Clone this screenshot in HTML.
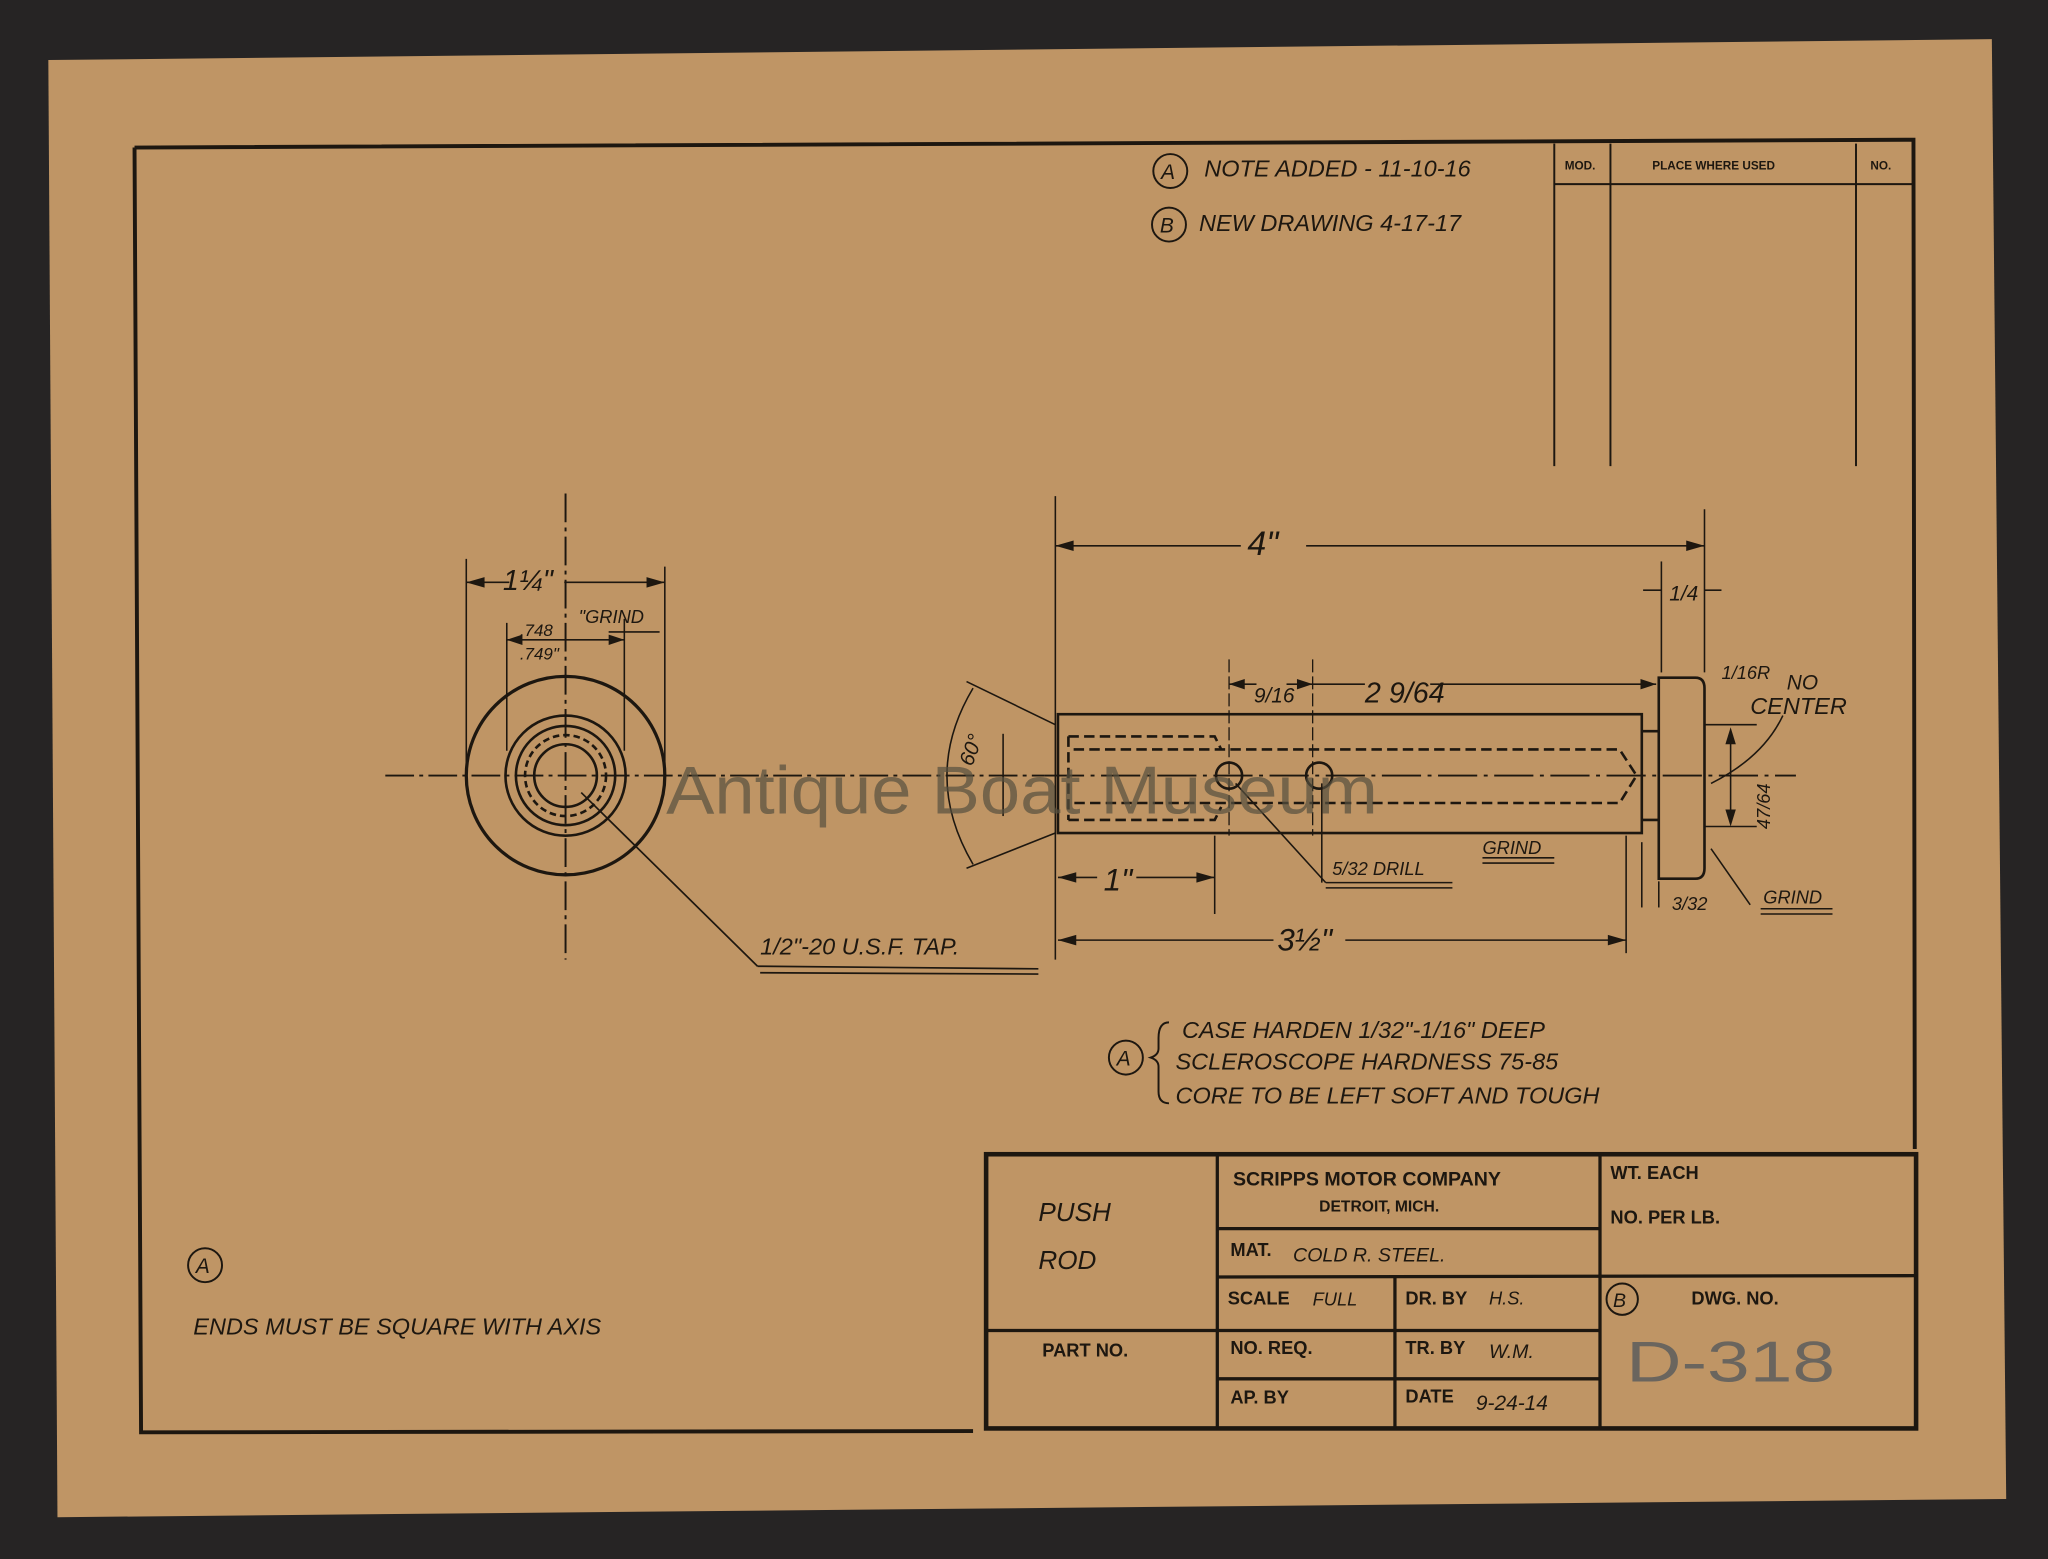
<!DOCTYPE html>
<html><head><meta charset="utf-8"><style>
html,body{margin:0;padding:0;background:#262424;}
svg{display:block}
text{font-family:"Liberation Sans",sans-serif;fill:#1d1710}
.h{font-family:"Liberation Sans",sans-serif;font-style:italic;fill:#1d1710}
.b{font-weight:bold}
</style></head><body>
<svg width="2048" height="1559" viewBox="0 0 1568 1194" preserveAspectRatio="none" xmlns="http://www.w3.org/2000/svg">
<rect width="1568" height="1194" fill="#262424"/>
<polygon points="37,46 1525,30 1536,1148 44,1162" fill="#bf9565"/>
<g stroke="#1d1710" fill="none">
<polyline points="103,113 1465,107 1466,880" stroke-width="3"/>
<polyline points="103,113 108,1097 745,1096" stroke-width="3"/>
<line x1="1190" y1="110" x2="1190" y2="357" stroke-width="1.5"/>
<line x1="1233" y1="110" x2="1233" y2="357" stroke-width="1.5"/>
<line x1="1421" y1="110" x2="1421" y2="357" stroke-width="1.5"/>
<line x1="1190" y1="141" x2="1465" y2="141" stroke-width="1.5"/>
<rect x="755" y="884" width="712" height="210" stroke-width="3.5"/>
<line x1="932" y1="884" x2="932" y2="1094" stroke-width="2.5"/>
<line x1="1225" y1="884" x2="1225" y2="1094" stroke-width="2.5"/>
<line x1="1068" y1="977" x2="1068" y2="1094" stroke-width="2.5"/>
<line x1="932" y1="941" x2="1225" y2="941" stroke-width="2.5"/>
<line x1="932" y1="978" x2="1467" y2="977" stroke-width="2.5"/>
<line x1="755" y1="1019" x2="1225" y2="1019" stroke-width="2.5"/>
<line x1="932" y1="1056" x2="1225" y2="1056" stroke-width="2.5"/>
<circle cx="433" cy="594" r="76" stroke-width="2.5"/>
<circle cx="433" cy="594" r="46" stroke-width="2"/>
<circle cx="433" cy="594" r="38" stroke-width="2"/>
<circle cx="433" cy="594" r="31" stroke-width="2" stroke-dasharray="5,3"/>
<circle cx="433" cy="594" r="24" stroke-width="2"/>
<line x1="433" y1="378" x2="433" y2="735" stroke-width="1.5" stroke-dasharray="22,4,3,4"/>
<line x1="295" y1="594" x2="800" y2="594" stroke-width="1.5" stroke-dasharray="22,4,3,4"/>
<line x1="357" y1="428" x2="357" y2="590" stroke-width="1.2"/>
<line x1="509" y1="434" x2="509" y2="590" stroke-width="1.2"/>
<line x1="357" y1="446" x2="390" y2="446" stroke-width="1.2"/>
<line x1="432" y1="446" x2="509" y2="446" stroke-width="1.2"/>
<line x1="388" y1="477" x2="388" y2="575" stroke-width="1.2"/>
<line x1="478" y1="474" x2="478" y2="575" stroke-width="1.2"/>
<line x1="388" y1="490" x2="478" y2="490" stroke-width="1.2"/>
<line x1="445" y1="607" x2="580" y2="740" stroke-width="1.3"/>
<line x1="580" y1="740" x2="795" y2="742" stroke-width="1.3"/>
<line x1="582" y1="745" x2="795" y2="746" stroke-width="1.3"/>
<line x1="808" y1="380" x2="808" y2="735" stroke-width="1.2"/>
<rect x="810" y="547" width="447" height="91" stroke-width="2"/>
<path d="M1257 560 H1270 M1257 628 H1270" stroke-width="2"/>
<path d="M1270 519 H1298 Q1305 519 1305 527 V665 Q1305 673 1298 673 H1270 Z" stroke-width="2"/>
<path d="M818 564 H930 L935 574 M818 628 H930 L935 618 M818 564 V628" stroke-width="2" stroke-dasharray="8,4"/>
<path d="M822 574 H1240 L1253 594 L1240 615 H822" stroke-width="2" stroke-dasharray="8,4"/>
<line x1="800" y1="594" x2="1375" y2="594" stroke-width="1.5" stroke-dasharray="30,5,3,5"/>
<circle cx="941" cy="594" r="10" stroke-width="2"/>
<circle cx="1010" cy="594" r="10" stroke-width="2"/>
<line x1="941" y1="505" x2="941" y2="640" stroke-width="1" stroke-dasharray="10,3"/>
<line x1="1005" y1="505" x2="1005" y2="640" stroke-width="1" stroke-dasharray="10,3"/>
<line x1="946" y1="600" x2="1015" y2="676" stroke-width="1.2"/>
<path d="M1015 676 H1112 M1015 680 H1112 M1012 600 V676" stroke-width="1.2"/>
<line x1="808" y1="418" x2="950" y2="418" stroke-width="1.2"/>
<line x1="1000" y1="418" x2="1305" y2="418" stroke-width="1.2"/>
<line x1="1305" y1="390" x2="1305" y2="515" stroke-width="1.2"/>
<line x1="1272" y1="430" x2="1272" y2="515" stroke-width="1.2"/>
<line x1="1258" y1="452" x2="1272" y2="452" stroke-width="1.2"/>
<line x1="1305" y1="452" x2="1318" y2="452" stroke-width="1.2"/>
<line x1="941" y1="524" x2="962" y2="524" stroke-width="1.2"/>
<line x1="985" y1="524" x2="1045" y2="524" stroke-width="1.2"/>
<line x1="1095" y1="524" x2="1268" y2="524" stroke-width="1.2"/>
<line x1="810" y1="672" x2="840" y2="672" stroke-width="1.2"/>
<line x1="870" y1="672" x2="930" y2="672" stroke-width="1.2"/>
<line x1="930" y1="640" x2="930" y2="700" stroke-width="1.2"/>
<line x1="810" y1="720" x2="975" y2="720" stroke-width="1.2"/>
<line x1="1030" y1="720" x2="1245" y2="720" stroke-width="1.2"/>
<line x1="1245" y1="640" x2="1245" y2="730" stroke-width="1.2"/>
<line x1="1257" y1="645" x2="1257" y2="695" stroke-width="1.2"/>
<line x1="1270" y1="675" x2="1270" y2="695" stroke-width="1.2"/>
<path d="M1305 555 H1345 M1305 633 H1345 M1325 560 V630" stroke-width="1.2"/>
<path d="M1365 548 Q1350 580 1310 600" stroke-width="1.2"/>
<path d="M1310 650 L1340 693" stroke-width="1.2"/>
<path d="M1348 696 H1403 M1348 700 H1403" stroke-width="1.2"/>
<path d="M1135 657 H1190 M1135 661 H1190" stroke-width="1.2"/>
<path d="M466 484 H505" stroke-width="1.2"/>
<path d="M808 555 L740 522 M808 638 L740 665" stroke-width="1.2"/>
<path d="M745 527 Q705 594 745 662" stroke-width="1.2"/>
<line x1="768" y1="562" x2="768" y2="625" stroke-width="1.2"/>
<path d="M895 783 Q887 783 887 795 V803 Q887 808 881 810 Q887 812 887 817 V836 Q887 845 895 845" stroke-width="1.5"/>
<circle cx="862" cy="810" r="13" stroke-width="1.5"/>
<circle cx="896" cy="131" r="13" stroke-width="1.5"/>
<circle cx="895" cy="172" r="13" stroke-width="1.5"/>
<circle cx="157" cy="969" r="13" stroke-width="1.5"/>
<circle cx="1242" cy="995" r="12" stroke-width="1.5"/>
</g>
<g fill="#1d1710">
<polygon points="808,418 822,414 822,422"/><polygon points="1305,418 1291,414 1291,422"/>
<polygon points="810,672 824,668 824,676"/><polygon points="930,672 916,668 916,676"/>
<polygon points="810,720 824,716 824,724"/><polygon points="1245,720 1231,716 1231,724"/>
<polygon points="941,524 953,520 953,528"/><polygon points="1005,524 993,520 993,528"/>
<polygon points="1268,524 1256,520 1256,528"/>
<polygon points="357,446 371,442 371,450"/><polygon points="509,446 495,442 495,450"/>
<polygon points="388,490 400,486 400,494"/><polygon points="478,490 466,486 466,494"/>
<polygon points="1325,557 1321,570 1329,570"/><polygon points="1325,633 1321,620 1329,620"/>
</g>
<g class="h" font-size="18">
<text x="922" y="135" class="h">NOTE ADDED - 11-10-16</text>
<text x="918" y="177" class="h">NEW DRAWING  4-17-17</text>
<text x="889" y="137" class="h" font-size="16">A</text>
<text x="888" y="178" class="h" font-size="16">B</text>
<text x="855" y="816" class="h" font-size="16">A</text>
<text x="150" y="975" class="h" font-size="16">A</text>
<text x="1235" y="1001" class="h" font-size="15">B</text>
<text x="905" y="795" class="h">CASE HARDEN 1/32"-1/16" DEEP</text>
<text x="900" y="819" class="h">SCLEROSCOPE HARDNESS 75-85</text>
<text x="900" y="845" class="h">CORE TO BE LEFT SOFT AND TOUGH</text>
<text x="148" y="1022" class="h">ENDS MUST BE SQUARE WITH AXIS</text>
<text x="582" y="731" class="h">1/2"-20 U.S.F. TAP.</text>
<text x="1020" y="670" class="h" font-size="14">5/32 DRILL</text>
<text x="1135" y="654" class="h" font-size="14">GRIND</text>
<text x="1350" y="692" class="h" font-size="14">GRIND</text>
<text x="443" y="477" class="h" font-size="14">"GRIND</text>
<text x="398" y="487" class="h" font-size="13">.748</text>
<text x="398" y="505" class="h" font-size="13">.749"</text>
<text x="385" y="452" class="h" font-size="22">1¼"</text>
<text x="955" y="425" class="h" font-size="26">4"</text>
<text x="960" y="538" class="h" font-size="16">9/16</text>
<text x="1045" y="538" class="h" font-size="22">2 9/64</text>
<text x="1278" y="460" class="h" font-size="16">1/4</text>
<text x="1318" y="520" class="h" font-size="14">1/16R</text>
<text x="1368" y="528" class="h" font-size="16">NO</text>
<text x="1340" y="547" class="h" font-size="18">CENTER</text>
<text x="845" y="682" class="h" font-size="24">1"</text>
<text x="978" y="728" class="h" font-size="24">3½"</text>
<text x="1280" y="697" class="h" font-size="14">3/32</text>
<text x="1310" y="620" class="h" font-size="14" transform="rotate(-90 1340 605)">47/64</text>
<text x="725" y="580" class="h" font-size="16" transform="rotate(-70 740 570)">60°</text>
<text x="795" y="935" class="h" font-size="20">PUSH</text>
<text x="795" y="972" class="h" font-size="20">ROD</text>
<text x="990" y="966" class="h" font-size="15">COLD R. STEEL.</text>
<text x="1005" y="1000" class="h" font-size="14">FULL</text>
<text x="1140" y="999" class="h" font-size="14">H.S.</text>
<text x="1140" y="1040" class="h" font-size="15">W.M.</text>
<text x="1130" y="1080" class="h" font-size="16">9-24-14</text>
</g>
<g font-size="14" class="b">
<text x="944" y="908" class="b" font-size="15">SCRIPPS MOTOR COMPANY</text>
<text x="1010" y="928" class="b" font-size="12">DETROIT, MICH.</text>
<text x="1233" y="903" class="b">WT. EACH</text>
<text x="1233" y="937" class="b">NO. PER LB.</text>
<text x="942" y="962" class="b">MAT.</text>
<text x="940" y="999" class="b">SCALE</text>
<text x="1076" y="999" class="b">DR. BY</text>
<text x="1295" y="999" class="b">DWG. NO.</text>
<text x="798" y="1039" class="b">PART NO.</text>
<text x="942" y="1037" class="b">NO. REQ.</text>
<text x="1076" y="1037" class="b">TR. BY</text>
<text x="942" y="1075" class="b">AP. BY</text>
<text x="1076" y="1074" class="b">DATE</text>
<text x="1198" y="130" font-size="9" class="b">MOD.</text>
<text x="1265" y="130" font-size="9" class="b">PLACE WHERE USED</text>
<text x="1432" y="130" font-size="9" class="b">NO.</text>
</g>
<text x="1245" y="1058" font-size="44" textLength="160" lengthAdjust="spacingAndGlyphs" style="fill:#6a655e">D-318</text>
<text x="510" y="623" font-size="52" textLength="545" lengthAdjust="spacingAndGlyphs" style="fill:#57503f;opacity:0.7">Antique Boat Museum</text>
</svg>
</body></html>
